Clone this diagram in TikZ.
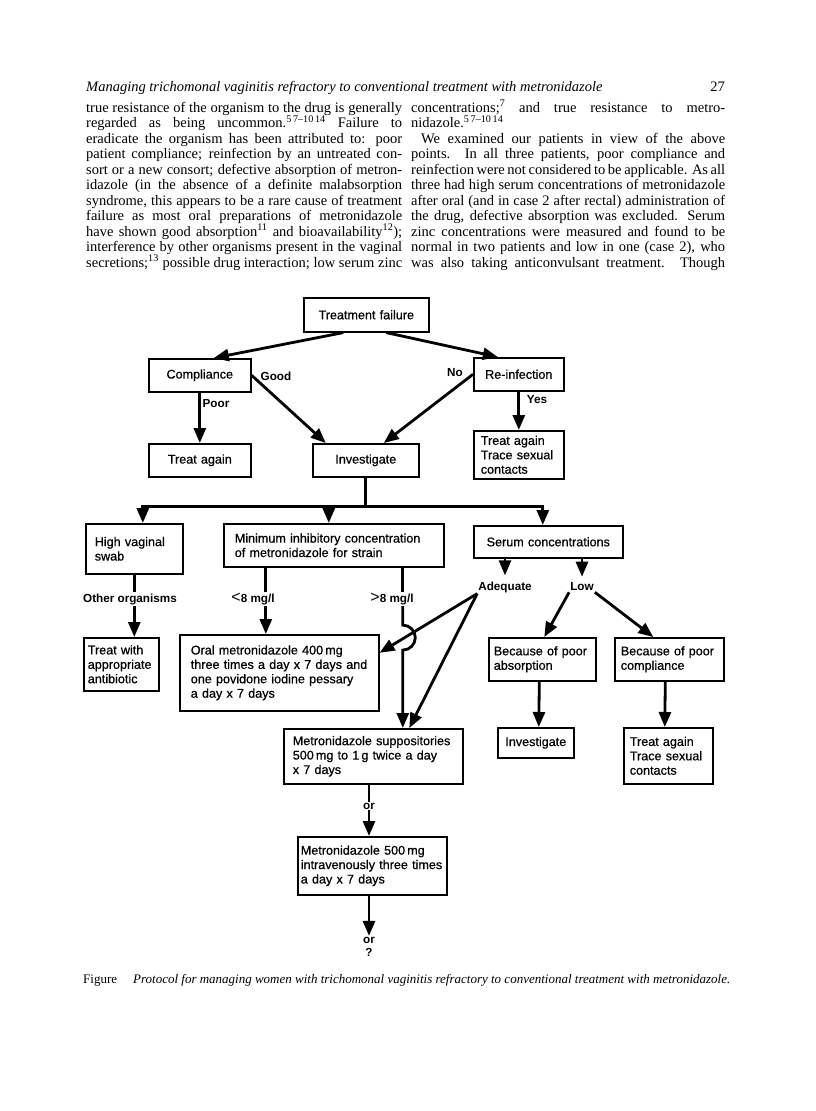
\documentclass[tikz,border=0pt]{standalone}
\usepackage{fontspec}
\setmainfont{Liberation Serif}
\setsansfont{Liberation Sans}
\newfontfamily\boxsans{Liberation Sans}[FakeBold=0.6]
\usetikzlibrary{positioning,arrows.meta}
\newcommand{\jlL}[1]{\makebox[316pt][s]{#1}}
\newcommand{\jlR}[1]{\makebox[314pt][s]{#1}}

\begin{document}
\begin{tikzpicture}[
  x=1pt, y=-1pt,
  page/.style={font=\fontsize{14.5}{15.5}\selectfont, inner sep=0pt, align=left},
  box/.style={draw, line width=1.6pt, anchor=north west, inner ysep=0pt, align=left, font=\boxsans\fontsize{12.6}{14.4}\selectfont},
  lbl/.style={font=\sffamily\bfseries\fontsize{11.7}{13.5}\selectfont, inner sep=1pt},
  link/.style={line width=2.8pt},
  arrow/.style={-{Triangle[length=15pt,width=12pt]}, line width=2.8pt}
]
\fill[white] (0,0) rectangle (816,1111);
\path[use as bounding box] (0,0) rectangle (816,1111);

% running head and page text
\node[page, anchor=base west] (head) at (86,91) {\itshape Managing trichomonal vaginitis refractory to conventional treatment with metronidazole};
\node[page, anchor=base east] (pageno) at (725,91) {27};

\node[page, anchor=north west] (colL) at (86,99) {%
\jlL{\rule{0pt}{13pt}true resistance of the organism to the drug is generally}\\
\jlL{regarded as being uncommon.\textsuperscript{5\,7--10\,14} Failure to}\\
\jlL{eradicate the organism has been attributed to: poor}\\
\jlL{patient compliance; reinfection by an untreated con-}\\
\jlL{sort or a new consort; defective absorption of metron-}\\
\jlL{idazole (in the absence of a definite malabsorption}\\
\jlL{syndrome, this appears to be a rare cause of treatment}\\
\jlL{failure as most oral preparations of metronidazole}\\
\jlL{have shown good absorption\textsuperscript{11} and bioavailability\textsuperscript{12});}\\
\jlL{interference by other organisms present in the vaginal}\\
\jlL{secretions;\textsuperscript{13} possible drug interaction; low serum zinc}};

\node[page, anchor=north west] (colR) at (411,99) {%
\jlR{\rule{0pt}{13pt}concentrations;\textsuperscript{7} and true resistance to metro-}\\
nidazole.\textsuperscript{5\,7--10\,14}\\
\jlR{\hspace*{10pt}We examined our patients in view of the above}\\
\jlR{points. In all three patients, poor compliance and}\\
\jlR{reinfection were not considered to be applicable. As all}\\
\jlR{three had high serum concentrations of metronidazole}\\
\jlR{after oral (and in case 2 after rectal) administration of}\\
\jlR{the drug, defective absorption was excluded. Serum}\\
\jlR{zinc concentrations were measured and found to be}\\
\jlR{normal in two patients and low in one (case 2), who}\\
\jlR{was also taking anticonvulsant treatment. Though}};

% flowchart boxes
\node[box, align=center, text width=113pt, inner xsep=6pt, minimum height=34pt] (fail) at (303,297) {Treatment failure};
\node[box, align=center, text width=90pt, inner xsep=6pt, minimum height=33pt] (comp) at (148,358) {Compliance};
\node[box, align=center, text width=78pt, inner xsep=6pt, minimum height=33pt] (reinf) at (473,357) {Re-infection};
\node[box, align=center, text width=90pt, inner xsep=6pt, minimum height=33pt] (again1) at (148,443) {Treat again};
\node[box, align=center, text width=94pt, inner xsep=6pt, minimum height=33pt] (invest) at (312,443) {Investigate};
\node[box, text width=76pt, inner xsep=7pt, minimum height=48pt] (again2) at (473,430) {Treat again\\Trace sexual\\contacts};

\node[box, text width=79pt, inner xsep=9pt, minimum height=50pt] (hvs) at (85,523) {High vaginal\\swab};
\node[box, text width=198pt, inner xsep=11pt, minimum height=43pt] (mic) at (223,523) {Minimum inhibitory concentration\\of metronidazole for strain};
\node[box, align=center, text width=137pt, inner xsep=6pt, minimum height=32pt] (serum) at (473,525) {Serum concentrations};

\node[box, text width=67pt, inner xsep=4pt, minimum height=53pt] (antib) at (83,637) {Treat with\\appropriate\\antibiotic};
\node[box, text width=177pt, inner xsep=11pt, minimum height=76pt] (oral) at (179,634) {Oral metronidazole 400\,mg\\three times a day x 7 days and\\one povidone iodine pessary\\a day x 7 days};
\node[box, text width=97pt, inner xsep=5pt, minimum height=43pt] (absorp) at (488,637) {Because of poor\\absorption};
\node[box, text width=97pt, inner xsep=6pt, minimum height=43pt] (compl2) at (614,637) {Because of poor\\compliance};

\node[box, text width=161pt, inner xsep=9pt, minimum height=55pt] (supp) at (283,728) {Metronidazole suppositories\\500\,mg to 1\,g twice a day\\x 7 days};
\node[box, align=center, text width=68pt, inner xsep=4pt, minimum height=30pt] (invest2) at (497,727) {Investigate};
\node[box, text width=77pt, inner xsep=6pt, minimum height=56pt] (again3) at (623,727) {Treat again\\Trace sexual\\contacts};
\node[box, text width=143pt, inner xsep=3pt, minimum height=58pt] (iv) at (297,836) {Metronidazole 500\,mg\\intravenously three times\\a day x 7 days};

% labels on the connectors
\node[lbl] (good) at (276,376) {Good};
\node[lbl] (poor) at (216,404) {Poor};
\node[lbl] (no) at (455,373) {No};
\node[lbl] (yes) at (537,400) {Yes};
\node[lbl] (other) at (130,599) {Other organisms};
\node[lbl] (lt8) at (253,599) {{\mdseries\fontsize{16}{16}\selectfont <}8 mg/l};
\node[lbl] (gt8) at (392,599) {{\mdseries\fontsize{16}{16}\selectfont >}8 mg/l};
\node[lbl] (adeq) at (505,587) {Adequate};
\node[lbl] (low) at (582,587) {Low};
\node[lbl] (or1) at (369,806) {or};
\node[lbl, align=center] (more) at (369,947) {or\\?};

% connectors
\draw[arrow] ([xshift=-23pt]fail.south) -- ([xshift=14pt]comp.north);
\draw[arrow] ([xshift=20pt]fail.south) -- ([xshift=-21pt]reinf.north);
\draw[arrow] (comp.south) -- (again1.north);
\draw[arrow] (comp.east) -- ([xshift=-40pt]invest.north);
\draw[arrow] (reinf.west) -- ([xshift=18pt]invest.north);
\draw[arrow] (reinf.south) -- (again2.north);

\draw[link] (invest.south) -- ++(0,29) coordinate (bus);
\coordinate (hvsin) at ([xshift=8.5pt]hvs.north);
\coordinate (micin) at ([xshift=-5pt]mic.north);
\coordinate (serin) at ([xshift=-5.5pt]serum.north);
\draw[arrow] (bus) -| (hvsin);
\draw[arrow] (bus) -| (serin);
\draw[arrow] (micin |- bus) -- (micin);

\draw[link] (hvs.south) -- (hvs.south |- other.north);
\draw[arrow] (hvs.south |- other.south) -- (hvs.south |- antib.north);

\path (mic.south) ++(-68,0) coordinate (micl) ++(137,0) coordinate (micr);
\draw[link] (micl) -- (micl |- lt8.north);
\draw[arrow] (micl |- lt8.south) -- (micl |- oral.north);
\draw[link] (micr) -- (micr |- gt8.north);
\draw[arrow] (micr |- gt8.south) -- ++(0,19) arc[start angle=90, end angle=-90, radius=12.5pt] -- (micr |- supp.north);

\draw[arrow] (serum.south -| adeq.north) -- ([yshift=5pt]adeq.north);
\draw[arrow] (serum.south -| low.north) -- ([yshift=5pt]low.north);
\draw[arrow] (adeq.south west) -- ([yshift=20pt]oral.east);
\draw[arrow] (adeq.south west) -- ([xshift=36pt]supp.north);
\draw[arrow] (low.south west) -- ([xshift=2pt]absorp.north);
\draw[arrow] (low.south east) -- ([xshift=-16pt]compl2.north);
\draw[arrow] ([xshift=-3pt]absorp.south) -- ([xshift=3pt]invest2.north);
\draw[arrow] ([xshift=-4pt]compl2.south) -- ([xshift=-3.5pt]again3.north);

\draw[link] (or1 |- supp.south) -- (or1.north);
\draw[arrow] (or1.south) -- (or1 |- iv.north);
\draw[arrow] (more |- iv.south) -- (more.north);

% caption
\node[page, anchor=base west, font=\fontsize{13}{15}\selectfont] (caption) at (83,983) {Figure\hspace{16pt}\itshape Protocol for managing women with trichomonal vaginitis refractory to conventional treatment with metronidazole.};
\end{tikzpicture}
\end{document}
